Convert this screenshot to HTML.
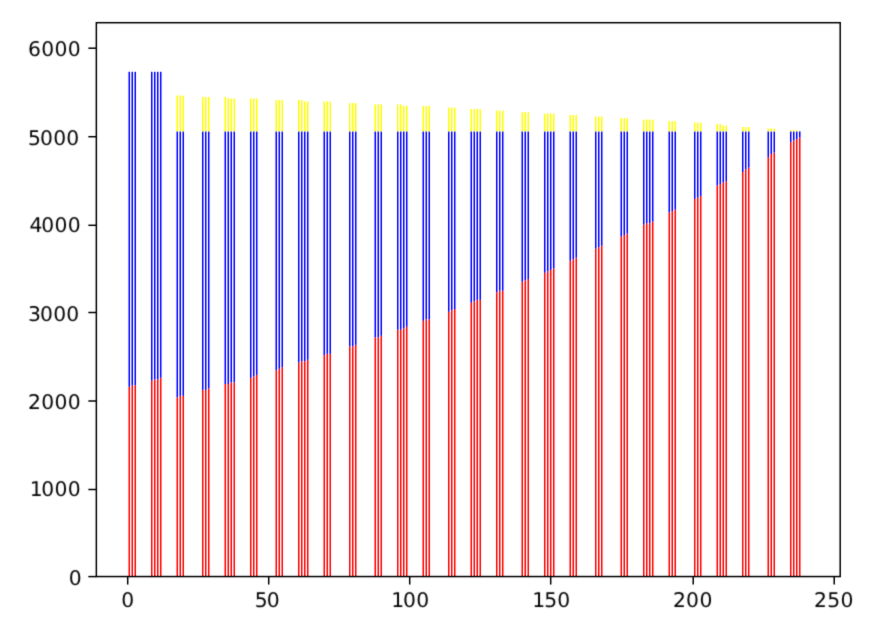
<!DOCTYPE html>
<html><head><meta charset="utf-8"><title>chart</title>
<style>html,body{margin:0;padding:0;background:#fff}svg{display:block}text{text-rendering:geometricPrecision;font-family:"DejaVu Sans","Liberation Sans",sans-serif;font-size:20.30px;fill:#000}</style>
</head><body>
<svg width="878" height="621" viewBox="0 0 878 621">
<rect width="878" height="621" fill="#fff"/>
<defs><filter id="soft" filterUnits="userSpaceOnUse" x="0" y="0" width="878" height="621" color-interpolation-filters="sRGB"><feConvolveMatrix order="3" kernelMatrix="0.0100 0.0800 0.0100 0.0800 0.6400 0.0800 0.0100 0.0800 0.0100" divisor="1" edgeMode="duplicate" preserveAlpha="false"/></filter>
<filter id="softt" filterUnits="userSpaceOnUse" x="0" y="0" width="878" height="621" color-interpolation-filters="sRGB"><feConvolveMatrix order="3" kernelMatrix="0.0256 0.1088 0.0256 0.1088 0.4624 0.1088 0.0256 0.1088 0.0256" divisor="1" edgeMode="duplicate" preserveAlpha="false"/></filter></defs>
<g filter="url(#soft)">
<g fill="#ff0000"><rect x="128.50" y="386.80" width="1.50" height="189.80"/><rect x="131.50" y="385.30" width="1.50" height="191.30"/><rect x="134.50" y="385.30" width="1.50" height="191.30"/><rect x="151.00" y="380.75" width="1.50" height="195.85"/><rect x="154.00" y="379.40" width="1.50" height="197.20"/><rect x="157.00" y="379.40" width="1.50" height="197.20"/><rect x="160.00" y="377.70" width="1.50" height="198.90"/><rect x="176.50" y="397.40" width="1.50" height="179.20"/><rect x="179.50" y="395.90" width="1.50" height="180.70"/><rect x="182.50" y="395.90" width="1.50" height="180.70"/><rect x="202.00" y="389.90" width="1.50" height="186.70"/><rect x="205.00" y="389.90" width="1.50" height="186.70"/><rect x="208.00" y="388.40" width="1.50" height="188.20"/><rect x="224.50" y="384.00" width="1.50" height="192.60"/><rect x="227.50" y="384.00" width="1.50" height="192.60"/><rect x="230.50" y="382.40" width="1.50" height="194.20"/><rect x="233.50" y="382.40" width="1.50" height="194.20"/><rect x="250.00" y="377.90" width="1.50" height="198.70"/><rect x="253.00" y="376.30" width="1.50" height="200.30"/><rect x="256.00" y="374.90" width="1.50" height="201.70"/><rect x="275.50" y="370.30" width="1.50" height="206.30"/><rect x="278.50" y="368.80" width="1.50" height="207.80"/><rect x="281.50" y="367.20" width="1.50" height="209.40"/><rect x="298.00" y="362.70" width="1.50" height="213.90"/><rect x="301.00" y="361.25" width="1.50" height="215.35"/><rect x="304.00" y="361.25" width="1.50" height="215.35"/><rect x="307.00" y="359.80" width="1.50" height="216.80"/><rect x="323.50" y="355.20" width="1.50" height="221.40"/><rect x="326.50" y="353.85" width="1.50" height="222.75"/><rect x="329.50" y="353.85" width="1.50" height="222.75"/><rect x="349.00" y="346.40" width="1.50" height="230.20"/><rect x="352.00" y="346.40" width="1.50" height="230.20"/><rect x="355.00" y="344.85" width="1.50" height="231.75"/><rect x="374.50" y="337.40" width="1.50" height="239.20"/><rect x="377.50" y="337.40" width="1.50" height="239.20"/><rect x="380.50" y="335.80" width="1.50" height="240.80"/><rect x="397.00" y="329.80" width="1.50" height="246.80"/><rect x="400.00" y="329.80" width="1.50" height="246.80"/><rect x="403.00" y="328.30" width="1.50" height="248.30"/><rect x="406.00" y="326.80" width="1.50" height="249.80"/><rect x="422.50" y="320.80" width="1.50" height="255.80"/><rect x="425.50" y="319.30" width="1.50" height="257.30"/><rect x="428.50" y="319.30" width="1.50" height="257.30"/><rect x="448.00" y="311.80" width="1.50" height="264.80"/><rect x="451.00" y="310.30" width="1.50" height="266.30"/><rect x="454.00" y="309.00" width="1.50" height="267.60"/><rect x="470.50" y="302.80" width="1.50" height="273.80"/><rect x="473.50" y="301.30" width="1.50" height="275.30"/><rect x="476.50" y="299.90" width="1.50" height="276.70"/><rect x="479.50" y="299.90" width="1.50" height="276.70"/><rect x="496.00" y="292.20" width="1.50" height="284.40"/><rect x="499.00" y="290.70" width="1.50" height="285.90"/><rect x="502.00" y="290.70" width="1.50" height="285.90"/><rect x="521.50" y="281.80" width="1.50" height="294.80"/><rect x="524.50" y="280.30" width="1.50" height="296.30"/><rect x="527.50" y="279.00" width="1.50" height="297.60"/><rect x="544.00" y="272.80" width="1.50" height="303.80"/><rect x="547.00" y="271.30" width="1.50" height="305.30"/><rect x="550.00" y="269.90" width="1.50" height="306.70"/><rect x="553.00" y="268.40" width="1.50" height="308.20"/><rect x="569.50" y="260.75" width="1.50" height="315.85"/><rect x="572.50" y="259.30" width="1.50" height="317.30"/><rect x="575.50" y="257.70" width="1.50" height="318.90"/><rect x="595.00" y="248.75" width="1.50" height="327.85"/><rect x="598.00" y="247.30" width="1.50" height="329.30"/><rect x="601.00" y="245.80" width="1.50" height="330.80"/><rect x="620.50" y="236.70" width="1.50" height="339.90"/><rect x="623.50" y="235.10" width="1.50" height="341.50"/><rect x="626.50" y="233.60" width="1.50" height="343.00"/><rect x="643.00" y="224.70" width="1.50" height="351.90"/><rect x="646.00" y="223.20" width="1.50" height="353.40"/><rect x="649.00" y="223.20" width="1.50" height="353.40"/><rect x="652.00" y="221.60" width="1.50" height="355.00"/><rect x="668.50" y="212.60" width="1.50" height="364.00"/><rect x="671.50" y="211.10" width="1.50" height="365.50"/><rect x="674.50" y="209.65" width="1.50" height="366.95"/><rect x="694.00" y="198.90" width="1.50" height="377.70"/><rect x="697.00" y="197.70" width="1.50" height="378.90"/><rect x="700.00" y="196.10" width="1.50" height="380.50"/><rect x="716.50" y="185.50" width="1.50" height="391.10"/><rect x="719.50" y="184.10" width="1.50" height="392.50"/><rect x="722.50" y="182.65" width="1.50" height="393.95"/><rect x="725.50" y="181.10" width="1.50" height="395.50"/><rect x="742.00" y="172.00" width="1.50" height="404.60"/><rect x="745.00" y="169.20" width="1.50" height="407.40"/><rect x="748.00" y="167.70" width="1.50" height="408.90"/><rect x="767.50" y="157.10" width="1.50" height="419.50"/><rect x="770.50" y="154.00" width="1.50" height="422.60"/><rect x="773.50" y="152.60" width="1.50" height="424.00"/><rect x="790.00" y="142.10" width="1.50" height="434.50"/><rect x="793.00" y="140.60" width="1.50" height="436.00"/><rect x="796.00" y="139.10" width="1.50" height="437.50"/><rect x="799.00" y="137.50" width="1.50" height="439.10"/></g>
<g fill="#0000ff"><rect x="128.50" y="71.80" width="1.50" height="315.00"/><rect x="131.50" y="71.80" width="1.50" height="313.50"/><rect x="134.50" y="71.80" width="1.50" height="313.50"/><rect x="151.00" y="71.80" width="1.50" height="308.95"/><rect x="154.00" y="71.80" width="1.50" height="307.60"/><rect x="157.00" y="71.80" width="1.50" height="307.60"/><rect x="160.00" y="71.80" width="1.50" height="305.90"/><rect x="176.50" y="131.40" width="1.50" height="266.00"/><rect x="179.50" y="131.40" width="1.50" height="264.50"/><rect x="182.50" y="131.40" width="1.50" height="264.50"/><rect x="202.00" y="131.40" width="1.50" height="258.50"/><rect x="205.00" y="131.40" width="1.50" height="258.50"/><rect x="208.00" y="131.40" width="1.50" height="257.00"/><rect x="224.50" y="131.40" width="1.50" height="252.60"/><rect x="227.50" y="131.40" width="1.50" height="252.60"/><rect x="230.50" y="131.40" width="1.50" height="251.00"/><rect x="233.50" y="131.40" width="1.50" height="251.00"/><rect x="250.00" y="131.40" width="1.50" height="246.50"/><rect x="253.00" y="131.40" width="1.50" height="244.90"/><rect x="256.00" y="131.40" width="1.50" height="243.50"/><rect x="275.50" y="131.40" width="1.50" height="238.90"/><rect x="278.50" y="131.40" width="1.50" height="237.40"/><rect x="281.50" y="131.40" width="1.50" height="235.80"/><rect x="298.00" y="131.40" width="1.50" height="231.30"/><rect x="301.00" y="131.40" width="1.50" height="229.85"/><rect x="304.00" y="131.40" width="1.50" height="229.85"/><rect x="307.00" y="131.40" width="1.50" height="228.40"/><rect x="323.50" y="131.40" width="1.50" height="223.80"/><rect x="326.50" y="131.40" width="1.50" height="222.45"/><rect x="329.50" y="131.40" width="1.50" height="222.45"/><rect x="349.00" y="131.40" width="1.50" height="215.00"/><rect x="352.00" y="131.40" width="1.50" height="215.00"/><rect x="355.00" y="131.40" width="1.50" height="213.45"/><rect x="374.50" y="131.40" width="1.50" height="206.00"/><rect x="377.50" y="131.40" width="1.50" height="206.00"/><rect x="380.50" y="131.40" width="1.50" height="204.40"/><rect x="397.00" y="131.40" width="1.50" height="198.40"/><rect x="400.00" y="131.40" width="1.50" height="198.40"/><rect x="403.00" y="131.40" width="1.50" height="196.90"/><rect x="406.00" y="131.40" width="1.50" height="195.40"/><rect x="422.50" y="131.40" width="1.50" height="189.40"/><rect x="425.50" y="131.40" width="1.50" height="187.90"/><rect x="428.50" y="131.40" width="1.50" height="187.90"/><rect x="448.00" y="131.40" width="1.50" height="180.40"/><rect x="451.00" y="131.40" width="1.50" height="178.90"/><rect x="454.00" y="131.40" width="1.50" height="177.60"/><rect x="470.50" y="131.40" width="1.50" height="171.40"/><rect x="473.50" y="131.40" width="1.50" height="169.90"/><rect x="476.50" y="131.40" width="1.50" height="168.50"/><rect x="479.50" y="131.40" width="1.50" height="168.50"/><rect x="496.00" y="131.40" width="1.50" height="160.80"/><rect x="499.00" y="131.40" width="1.50" height="159.30"/><rect x="502.00" y="131.40" width="1.50" height="159.30"/><rect x="521.50" y="131.40" width="1.50" height="150.40"/><rect x="524.50" y="131.40" width="1.50" height="148.90"/><rect x="527.50" y="131.40" width="1.50" height="147.60"/><rect x="544.00" y="131.40" width="1.50" height="141.40"/><rect x="547.00" y="131.40" width="1.50" height="139.90"/><rect x="550.00" y="131.40" width="1.50" height="138.50"/><rect x="553.00" y="131.40" width="1.50" height="137.00"/><rect x="569.50" y="131.40" width="1.50" height="129.35"/><rect x="572.50" y="131.40" width="1.50" height="127.90"/><rect x="575.50" y="131.40" width="1.50" height="126.30"/><rect x="595.00" y="131.40" width="1.50" height="117.35"/><rect x="598.00" y="131.40" width="1.50" height="115.90"/><rect x="601.00" y="131.40" width="1.50" height="114.40"/><rect x="620.50" y="131.40" width="1.50" height="105.30"/><rect x="623.50" y="131.40" width="1.50" height="103.70"/><rect x="626.50" y="131.40" width="1.50" height="102.20"/><rect x="643.00" y="131.40" width="1.50" height="93.30"/><rect x="646.00" y="131.40" width="1.50" height="91.80"/><rect x="649.00" y="131.40" width="1.50" height="91.80"/><rect x="652.00" y="131.40" width="1.50" height="90.20"/><rect x="668.50" y="131.40" width="1.50" height="81.20"/><rect x="671.50" y="131.40" width="1.50" height="79.70"/><rect x="674.50" y="131.40" width="1.50" height="78.25"/><rect x="694.00" y="131.40" width="1.50" height="67.50"/><rect x="697.00" y="131.40" width="1.50" height="66.30"/><rect x="700.00" y="131.40" width="1.50" height="64.70"/><rect x="716.50" y="131.40" width="1.50" height="54.10"/><rect x="719.50" y="131.40" width="1.50" height="52.70"/><rect x="722.50" y="131.40" width="1.50" height="51.25"/><rect x="725.50" y="131.40" width="1.50" height="49.70"/><rect x="742.00" y="131.40" width="1.50" height="40.60"/><rect x="745.00" y="131.40" width="1.50" height="37.80"/><rect x="748.00" y="131.40" width="1.50" height="36.30"/><rect x="767.50" y="131.40" width="1.50" height="25.70"/><rect x="770.50" y="131.40" width="1.50" height="22.60"/><rect x="773.50" y="131.40" width="1.50" height="21.20"/><rect x="790.00" y="131.40" width="1.50" height="10.70"/><rect x="793.00" y="131.40" width="1.50" height="9.20"/><rect x="796.00" y="131.40" width="1.50" height="7.70"/><rect x="799.00" y="131.40" width="1.50" height="6.10"/></g>
<g fill="#ffff00"><rect x="176.50" y="95.55" width="1.50" height="35.85"/><rect x="179.50" y="95.55" width="1.50" height="35.85"/><rect x="182.50" y="95.55" width="1.50" height="35.85"/><rect x="202.00" y="97.00" width="1.50" height="34.40"/><rect x="205.00" y="97.00" width="1.50" height="34.40"/><rect x="208.00" y="97.00" width="1.50" height="34.40"/><rect x="224.50" y="97.00" width="1.50" height="34.40"/><rect x="227.50" y="98.40" width="1.50" height="33.00"/><rect x="230.50" y="98.40" width="1.50" height="33.00"/><rect x="233.50" y="98.40" width="1.50" height="33.00"/><rect x="250.00" y="98.40" width="1.50" height="33.00"/><rect x="253.00" y="98.40" width="1.50" height="33.00"/><rect x="256.00" y="98.40" width="1.50" height="33.00"/><rect x="275.50" y="100.10" width="1.50" height="31.30"/><rect x="278.50" y="100.10" width="1.50" height="31.30"/><rect x="281.50" y="100.10" width="1.50" height="31.30"/><rect x="298.00" y="100.10" width="1.50" height="31.30"/><rect x="301.00" y="100.10" width="1.50" height="31.30"/><rect x="304.00" y="101.50" width="1.50" height="29.90"/><rect x="307.00" y="101.50" width="1.50" height="29.90"/><rect x="323.50" y="101.50" width="1.50" height="29.90"/><rect x="326.50" y="101.50" width="1.50" height="29.90"/><rect x="329.50" y="101.50" width="1.50" height="29.90"/><rect x="349.00" y="103.10" width="1.50" height="28.30"/><rect x="352.00" y="103.10" width="1.50" height="28.30"/><rect x="355.00" y="103.10" width="1.50" height="28.30"/><rect x="374.50" y="104.40" width="1.50" height="27.00"/><rect x="377.50" y="104.40" width="1.50" height="27.00"/><rect x="380.50" y="104.40" width="1.50" height="27.00"/><rect x="397.00" y="104.40" width="1.50" height="27.00"/><rect x="400.00" y="104.40" width="1.50" height="27.00"/><rect x="403.00" y="105.90" width="1.50" height="25.50"/><rect x="406.00" y="105.90" width="1.50" height="25.50"/><rect x="422.50" y="106.00" width="1.50" height="25.40"/><rect x="425.50" y="106.00" width="1.50" height="25.40"/><rect x="428.50" y="106.00" width="1.50" height="25.40"/><rect x="448.00" y="107.60" width="1.50" height="23.80"/><rect x="451.00" y="107.60" width="1.50" height="23.80"/><rect x="454.00" y="107.60" width="1.50" height="23.80"/><rect x="470.50" y="109.10" width="1.50" height="22.30"/><rect x="473.50" y="109.10" width="1.50" height="22.30"/><rect x="476.50" y="109.10" width="1.50" height="22.30"/><rect x="479.50" y="109.10" width="1.50" height="22.30"/><rect x="496.00" y="110.60" width="1.50" height="20.80"/><rect x="499.00" y="110.60" width="1.50" height="20.80"/><rect x="502.00" y="110.60" width="1.50" height="20.80"/><rect x="521.50" y="112.20" width="1.50" height="19.20"/><rect x="524.50" y="112.20" width="1.50" height="19.20"/><rect x="527.50" y="112.20" width="1.50" height="19.20"/><rect x="544.00" y="113.60" width="1.50" height="17.80"/><rect x="547.00" y="113.60" width="1.50" height="17.80"/><rect x="550.00" y="113.60" width="1.50" height="17.80"/><rect x="553.00" y="113.60" width="1.50" height="17.80"/><rect x="569.50" y="115.00" width="1.50" height="16.40"/><rect x="572.50" y="115.00" width="1.50" height="16.40"/><rect x="575.50" y="115.00" width="1.50" height="16.40"/><rect x="595.00" y="116.60" width="1.50" height="14.80"/><rect x="598.00" y="116.60" width="1.50" height="14.80"/><rect x="601.00" y="116.60" width="1.50" height="14.80"/><rect x="620.50" y="118.10" width="1.50" height="13.30"/><rect x="623.50" y="118.10" width="1.50" height="13.30"/><rect x="626.50" y="118.10" width="1.50" height="13.30"/><rect x="643.00" y="119.60" width="1.50" height="11.80"/><rect x="646.00" y="119.60" width="1.50" height="11.80"/><rect x="649.00" y="119.60" width="1.50" height="11.80"/><rect x="652.00" y="119.60" width="1.50" height="11.80"/><rect x="668.50" y="121.10" width="1.50" height="10.30"/><rect x="671.50" y="121.10" width="1.50" height="10.30"/><rect x="674.50" y="121.10" width="1.50" height="10.30"/><rect x="694.00" y="122.60" width="1.50" height="8.80"/><rect x="697.00" y="122.60" width="1.50" height="8.80"/><rect x="700.00" y="122.60" width="1.50" height="8.80"/><rect x="716.50" y="124.00" width="1.50" height="7.40"/><rect x="719.50" y="124.00" width="1.50" height="7.40"/><rect x="722.50" y="125.50" width="1.50" height="5.90"/><rect x="725.50" y="125.50" width="1.50" height="5.90"/><rect x="742.00" y="127.00" width="1.50" height="4.40"/><rect x="745.00" y="127.00" width="1.50" height="4.40"/><rect x="748.00" y="127.00" width="1.50" height="4.40"/><rect x="767.50" y="128.50" width="1.50" height="2.90"/><rect x="770.50" y="128.50" width="1.50" height="2.90"/><rect x="773.50" y="128.50" width="1.50" height="2.90"/><rect x="790.00" y="130.10" width="1.50" height="1.30"/><rect x="793.00" y="130.10" width="1.50" height="1.30"/><rect x="796.00" y="130.10" width="1.50" height="1.30"/></g>
<g stroke="#000" stroke-width="1.500" fill="none">
<line x1="127.70" y1="576.55" x2="127.70" y2="584.55"/>
<line x1="268.70" y1="576.55" x2="268.70" y2="584.55"/>
<line x1="409.70" y1="576.55" x2="409.70" y2="584.55"/>
<line x1="550.70" y1="576.55" x2="550.70" y2="584.55"/>
<line x1="693.20" y1="576.55" x2="693.20" y2="584.55"/>
<line x1="834.20" y1="576.55" x2="834.20" y2="584.55"/>
<line x1="88.35" y1="576.60" x2="96.35" y2="576.60"/>
<line x1="88.35" y1="489.50" x2="96.35" y2="489.50"/>
<line x1="88.35" y1="401.00" x2="96.35" y2="401.00"/>
<line x1="88.35" y1="312.50" x2="96.35" y2="312.50"/>
<line x1="88.35" y1="225.30" x2="96.35" y2="225.30"/>
<line x1="88.35" y1="136.70" x2="96.35" y2="136.70"/>
<line x1="88.35" y1="48.20" x2="96.35" y2="48.20"/>
<rect x="96.35" y="22.70" width="743.85" height="553.85" stroke-linejoin="miter"/>
</g>
</g>
<g filter="url(#softt)">
<text x="28.07 41.18 54.45 67.65" y="56.45">6000</text>
<text x="27.91 40.10 53.25 66.25" y="144.60">5000</text>
<text x="29.42 41.18 54.45 67.65" y="231.70">4000</text>
<text x="27.98 40.10 53.25 66.25" y="320.60">3000</text>
<text x="27.91 41.18 54.45 67.65" y="408.60">2000</text>
<text x="29.66 41.18 54.45 67.65" y="495.95">1000</text>
<text x="68.75" y="584.60">0</text>
<text x="121.15" y="607.35">0</text>
<text x="254.80 266.85" y="607.35">50</text>
<text x="391.16 402.95 416.25" y="607.35">100</text>
<text x="532.16 544.35 557.25" y="607.35">150</text>
<text x="673.06 685.95 699.45" y="607.35">200</text>
<text x="814.06 827.35 840.45" y="607.35">250</text>
</g>
</svg></body></html>
